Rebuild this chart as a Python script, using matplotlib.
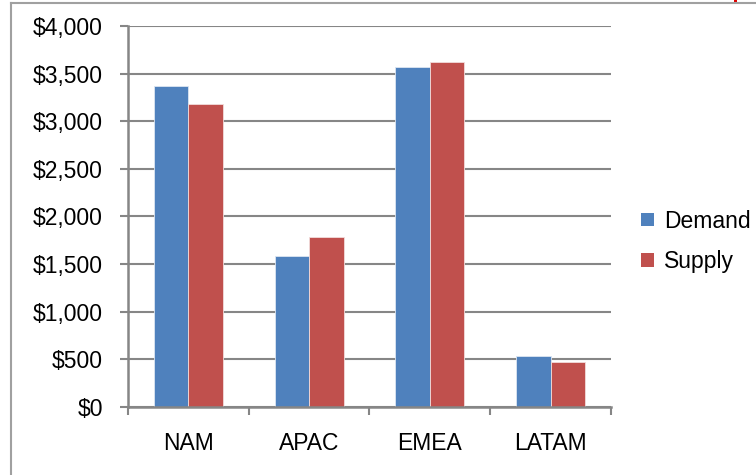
import numpy as np
import matplotlib
matplotlib.use('Agg')
import matplotlib.pyplot as plt
from matplotlib.lines import Line2D
from matplotlib.patches import Patch, Rectangle
from matplotlib.ticker import FuncFormatter, FixedLocator


regions = ['NAM', 'APAC', 'EMEA', 'LATAM']
demand = [3370, 1580, 3570, 535]
supply = [3180, 1780, 3620, 475]

blue = '#4F81BD'
red = '#C0504D'
grey = '#868686'

plt.rcParams['font.family'] = ['Liberation Sans', 'DejaVu Sans']

fig = plt.figure(figsize=(7.56, 4.75), dpi=100)
ax = fig.add_axes([0.1693, 0.1432, 0.6389, 0.8021])

x = np.arange(len(regions))
w = 0.285
ax.bar(x - w / 2, demand, w, color=blue, edgecolor='#DCE6F2', linewidth=0.6, zorder=3)
ax.bar(x + w / 2, supply, w, color=red, edgecolor='#F2DCDB', linewidth=0.6, zorder=3)

ax.set_xlim(-0.5, len(regions) - 0.5)
ax.set_ylim(0, 4000)
ax.set_yticks(np.arange(0, 4001, 500))
ax.yaxis.set_major_formatter(FuncFormatter(lambda v, p: '${:,.0f}'.format(v)))
ax.grid(axis='y', color=grey, linewidth=1.5, zorder=0)

# category labels sit in the middle, tick marks on the boundaries
ax.set_xticks(x)
ax.set_xticklabels(regions)
ax.xaxis.set_minor_locator(FixedLocator(np.arange(-0.5, len(regions), 1.0)))
ax.tick_params(axis='x', which='major', length=0, pad=18, labelsize=16.5)
ax.tick_params(axis='x', which='minor', length=6, width=1.5, color=grey, direction='out')
ax.tick_params(axis='y', length=6, width=1.5, color=grey, pad=12, labelsize=16.5)

for s in ['top', 'right']:
    ax.spines[s].set_visible(False)
for s in ['left', 'bottom']:
    ax.spines[s].set_color(grey)
    ax.spines[s].set_linewidth(1.8)
    ax.spines[s].set_zorder(4)

handles = [Patch(facecolor=blue, edgecolor='none'), Patch(facecolor=red, edgecolor='none')]
ax.legend(handles, ['Demand', 'Supply'], loc='center left', bbox_to_anchor=(1.015, 0.435),
          frameon=False, fontsize=16.5, handlelength=0.55, handleheight=0.55,
          handletextpad=0.45, labelspacing=0.75, borderaxespad=0.6)

# outer chart frame
fig.add_artist(Line2D([0.0146, 0.0146], [0.0, 0.9935], color='#A0A0A0', linewidth=1.5))
fig.add_artist(Line2D([0.0146, 1.0], [0.9935, 0.9935], color='#A0A0A0', linewidth=1.5))
fig.add_artist(Rectangle((0.9715, 0.994), 0.004, 0.006, transform=fig.transFigure,
                         facecolor='#E00000', edgecolor='none'))

fig.savefig('out.png', dpi=100)
